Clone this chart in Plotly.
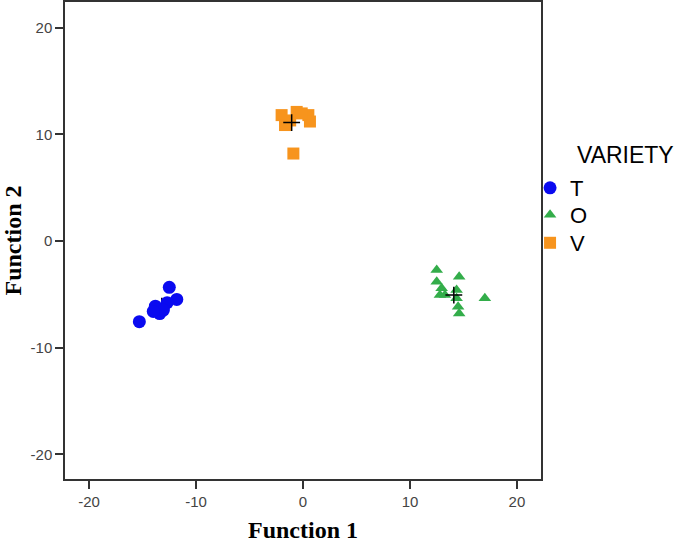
import plotly.graph_objects as go

# Group T (circles)
t_x = [-15.3, -12.5, -11.8, -12.7, -13.8, -13.4, -13.05, -14.0]
t_y = [-7.56, -4.34, -5.47, -5.78, -6.1, -6.8, -6.47, -6.6]
# Group O (triangles)
o_x = [12.5, 14.6, 12.5, 12.96, 13.27, 12.8, 14.36, 14.36, 17.0, 14.5, 14.6]
o_y = [-2.72, -3.35, -3.81, -4.43, -5.06, -5.06, -4.6, -5.37, -5.37, -6.16, -6.78]
# Group V (squares)
v_x = [-2.0, -1.68, -0.59, 0.5, 0.65, -1.2, -0.12, -0.9]
v_y = [11.8, 10.87, 12.1, 11.8, 11.2, 11.3, 11.96, 8.2]
# Group centroids (T, O, V)
cen_x = [-13.2, 14.1, -1.06]
cen_y = [-6.1, -5.06, 11.1]

x_ticks = [-20, -10, 0, 10, 20]
x_tick_text = ["-20", "-10", "0", "10", "20"]
y_ticks = [-20, -10, 0, 10, 20]
y_tick_text = ["-20", "-10", "0", "10", "20"]

cross = dict(symbol="cross-thin", size=12, line=dict(color="black", width=1.5))

fig = go.Figure()
# T centroid lies under the circles
fig.add_trace(go.Scatter(x=cen_x[:1], y=cen_y[:1], mode="markers", showlegend=False, marker=cross))
fig.add_trace(go.Scatter(x=t_x, y=t_y, mode="markers", name="T", legend="legend",
                         marker=dict(symbol="circle", size=13, color="#0a0af0")))
fig.add_trace(go.Scatter(x=o_x, y=o_y, mode="markers", name="O", legend="legend2",
                         marker=dict(symbol="triangle-up", size=11, color="#33ad4a")))
fig.add_trace(go.Scatter(x=v_x, y=v_y, mode="markers", name="V", legend="legend3",
                         marker=dict(symbol="square", size=12, color="#f7941d")))
fig.add_trace(go.Scatter(x=cen_x[1:], y=cen_y[1:], mode="markers", showlegend=False, marker=cross))

axis_common = dict(showline=True, linecolor="#333333", linewidth=1.5, mirror=True,
                   ticks="outside", ticklen=8, tickcolor="#333333", tickwidth=1.5,
                   showgrid=False, zeroline=False, automargin=False,
                   tickfont=dict(family="Liberation Sans, Arial", size=15, color="#444444"))

title_font = dict(family="Liberation Serif, Times New Roman", size=24, color="black", weight="bold")
leg_font = dict(family="Liberation Sans, Arial", size=22, color="black")
leg_common = dict(x=0.977, xanchor="left", yanchor="middle", bgcolor="rgba(0,0,0,0)", font=leg_font)

fig.update_layout(
    width=678, height=550,
    margin=dict(l=65, r=137, t=2, b=71),
    paper_bgcolor="white", plot_bgcolor="white",
    xaxis=dict(range=[-22.25, 22.25], tickvals=x_ticks, ticktext=x_tick_text,
               title=dict(text="Function 1", standoff=12, font=title_font),
               **axis_common),
    yaxis=dict(range=[-22.3, 22.4], tickvals=y_ticks, ticktext=y_tick_text,
               title=dict(text="Function 2", standoff=3, font=title_font),
               **axis_common),
    legend=dict(y=0.610, **leg_common),
    legend2=dict(y=0.5535, **leg_common),
    legend3=dict(y=0.4948, **leg_common),
    annotations=[dict(text="VARIETY", x=1.0714, y=0.679, xref="paper", yref="paper",
                      xanchor="left", yanchor="middle", showarrow=False,
                      font=dict(family="Liberation Sans, Arial", size=23, color="black"))],
    showlegend=True,
)

fig.write_html("out.html", config={"displayModeBar": False},
               post_script="document.body.style.margin='0';")
